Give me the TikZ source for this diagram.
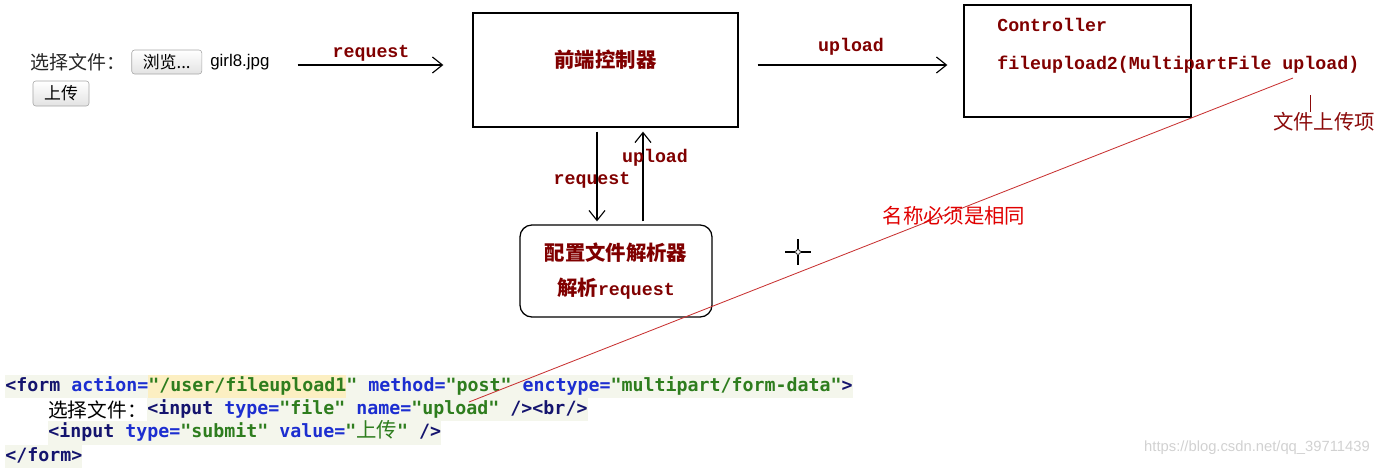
\documentclass[tikz,border=0pt]{standalone}
\usepackage{fontspec}
\usepackage{xcolor}
\usepackage{tikz}
\usetikzlibrary{arrows.meta,positioning,calc}

\newfontfamily\cjk{Noto Sans CJK SC}
\newfontfamily\lblmono{Liberation Mono}
\newfontfamily\codemono{DejaVu Sans Mono}
\newfontfamily\uisans{Liberation Sans}

\definecolor{lblred}{HTML}{800000}
\definecolor{notered}{HTML}{E00000}
\definecolor{linered}{HTML}{C83232}
\definecolor{itemred}{HTML}{8B0A0A}
\definecolor{tagc}{HTML}{14146E}
\definecolor{attrc}{HTML}{1C2ED0}
\definecolor{strc}{HTML}{2E7D1E}
\definecolor{codebg}{HTML}{F4F6EC}
\definecolor{hlbg}{HTML}{FCEFC2}

\newcommand{\lblfont}{\lblmono\bfseries\fontsize{13}{15}\selectfont}
\newcommand{\titlefont}{\cjk\bfseries\fontsize{14.5}{17}\selectfont}
\newcommand{\codefont}{\codemono\bfseries\fontsize{13}{16}\selectfont}
\newcommand{\rowstrut}{\rule[-4.8pt]{0pt}{16.6pt}}
\setlength{\fboxsep}{0pt}

\tikzset{
  ctrlbox/.style={draw, line width=0.9pt, inner sep=0pt},
  parsebox/.style={draw, line width=0.9pt, rounded corners=0.3cm, align=center, text=lblred},
  flowarrow/.style={-{Straight Barb[length=2.5mm,width=4mm]}, line width=0.8pt},
  flowlbl/.style={font=\lblfont, text=lblred, inner sep=1pt},
  titletxt/.style={font=\titlefont, text=lblred, inner sep=0pt},
  uibtn/.style={draw=gray!70, rounded corners=2pt, top color=white, bottom color=gray!22, inner sep=0pt},
  codeline/.style={font=\codefont, anchor=west, inner xsep=0pt, inner ysep=0.8pt, text height=11pt, text depth=4pt},
}

\begin{document}
\begin{tikzpicture}[x=0.025cm, y=-0.025cm]
  \useasboundingbox (0,0) rectangle (1380,468);
  \coordinate (lvl) at (0,65);

  % upload form in the browser
  \node[anchor=west, inner sep=0pt, text=black!85, font=\cjk\fontsize{13.5}{16}\selectfont] (choose) at (30,62) {选择文件：};
  \node[uibtn, right=0.15cm of choose, minimum width=1.75cm, minimum height=0.6cm, font=\cjk\fontsize{12}{14}\selectfont] (browse) {浏览...};
  \node[right=0.2cm of browse, inner sep=0pt, font=\uisans\fontsize{12}{14}\selectfont] (girl) {girl8.jpg};
  \node[uibtn, minimum width=1.4cm, minimum height=0.625cm, font=\cjk\fontsize{12}{14}\selectfont] (submit) at (61,93.5) {上传};

  % front controller and controller
  \node[ctrlbox, minimum width=6.625cm, minimum height=2.85cm] (front) at (605.5,70) {};
  \node[titletxt] (fronttxt) at ([yshift=0.25cm]front.center) {前端控制器};
  \node[ctrlbox, minimum width=5.675cm, minimum height=2.8cm] (ctrl) at (1077.5,61) {};
  \node[flowlbl, anchor=west, inner sep=0pt] (ctrlname) at (997,25) {Controller};
  \node[flowlbl, anchor=west, inner sep=0pt] (ctrlsig) at (997,65) {fileupload2(MultipartFile upload)};

  % multipart resolver
  \node[parsebox, minimum width=4.8cm, minimum height=2.3cm] (parser) at (616,271)
    {{\titlefont 配置文件解析器}\\[0.35cm]{\titlefont 解析}{\lblfont request}};

  \draw[flowarrow, shorten <=0.7cm, shorten >=0.725cm] (girl.east |- lvl) -- (front.west |- lvl)
    node[flowlbl, midway, above=0.05cm] (reqlbl) {request};
  \draw[flowarrow, shorten <=0.475cm, shorten >=0.4cm] (front.east |- lvl) -- (ctrl.west |- lvl)
    node[flowlbl, midway, above=0.2cm] (uplbl) {upload};

  \coordinate (downx) at (597,0);
  \coordinate (upx) at (643,0);
  \draw[flowarrow, shorten <=0.1cm, shorten >=0.075cm] (front.south -| downx) -- (parser.north -| downx);
  \draw[flowarrow, shorten <=0.075cm, shorten >=0.1cm] (parser.north -| upx) -- (front.south -| upx);
  \node[flowlbl] (downlbl) at (592,180) {request};
  \node[flowlbl] (uplbl2) at (655,158) {upload};

  % cursor
  \node[circle, draw, inner sep=0pt, minimum size=0.12cm, line width=0.5pt] (cursor) at (798,252) {};
  \draw[line width=0.8pt] (cursor.north) -- ++(0,-10) (cursor.south) -- ++(0,10)
    (cursor.west) -- ++(-10,0) (cursor.east) -- ++(10,0);

  % file item
  \node[inner sep=0pt, text=itemred, font=\cjk\fontsize{14.5}{17}\selectfont] (item) at (1324,122) {文件上传项};
  \coordinate (tick) at (1310,95);
  \draw[itemred, line width=0.6pt] (tick) -- (tick |- item.north);

  % form source code
  \node[codeline, fill=codebg] (code1) at (5,386.5)
    {{\color{tagc}<form} {\color{attrc}action=}\colorbox{hlbg}{\rowstrut\color{strc}"/user/fileupload1}{\color{strc}"} {\color{attrc}method=}{\color{strc}"post"} {\color{attrc}enctype=}{\color{strc}"multipart/form-data"}{\color{tagc}>}};
  \node[anchor=west, inner sep=0pt, font=\cjk\fontsize{14}{16}\selectfont] (code2a) at (48,409.5) {选择文件：};
  \node[codeline, fill=codebg] (code2) at (147,409.5)
    {{\color{tagc}<input} {\color{attrc}type=}{\color{strc}"file"} {\color{attrc}name=}{\color{strc}"upload"} {\color{tagc}/><br/>}};
  \node[codeline, fill=codebg] (code3) at (48,433)
    {{\color{tagc}<input} {\color{attrc}type=}{\color{strc}"submit"} {\color{attrc}value=}{\color{strc}"{\cjk\mdseries\fontsize{14.5}{16}\selectfont 上传}"} {\color{tagc}/>}};
  \node[codeline, fill=codebg] (code4) at (5,456.5) {{\color{tagc}</form>}};

  % names must match
  \coordinate (sigend) at (1293,78);
  \coordinate (codeend) at (469,402);
  \draw[linered, line width=0.6pt] (sigend) -- (codeend);
  \node[inner sep=0pt, text=notered, font=\cjk\fontsize{14.5}{17}\selectfont] (same) at (954,216) {名称必须是相同};

  \node[anchor=east, inner sep=0pt, text=black!18, font=\uisans\fontsize{10.5}{12}\selectfont] (mark) at (1370,448) {https://blog.csdn.net/qq\_39711439};
\end{tikzpicture}
\end{document}
